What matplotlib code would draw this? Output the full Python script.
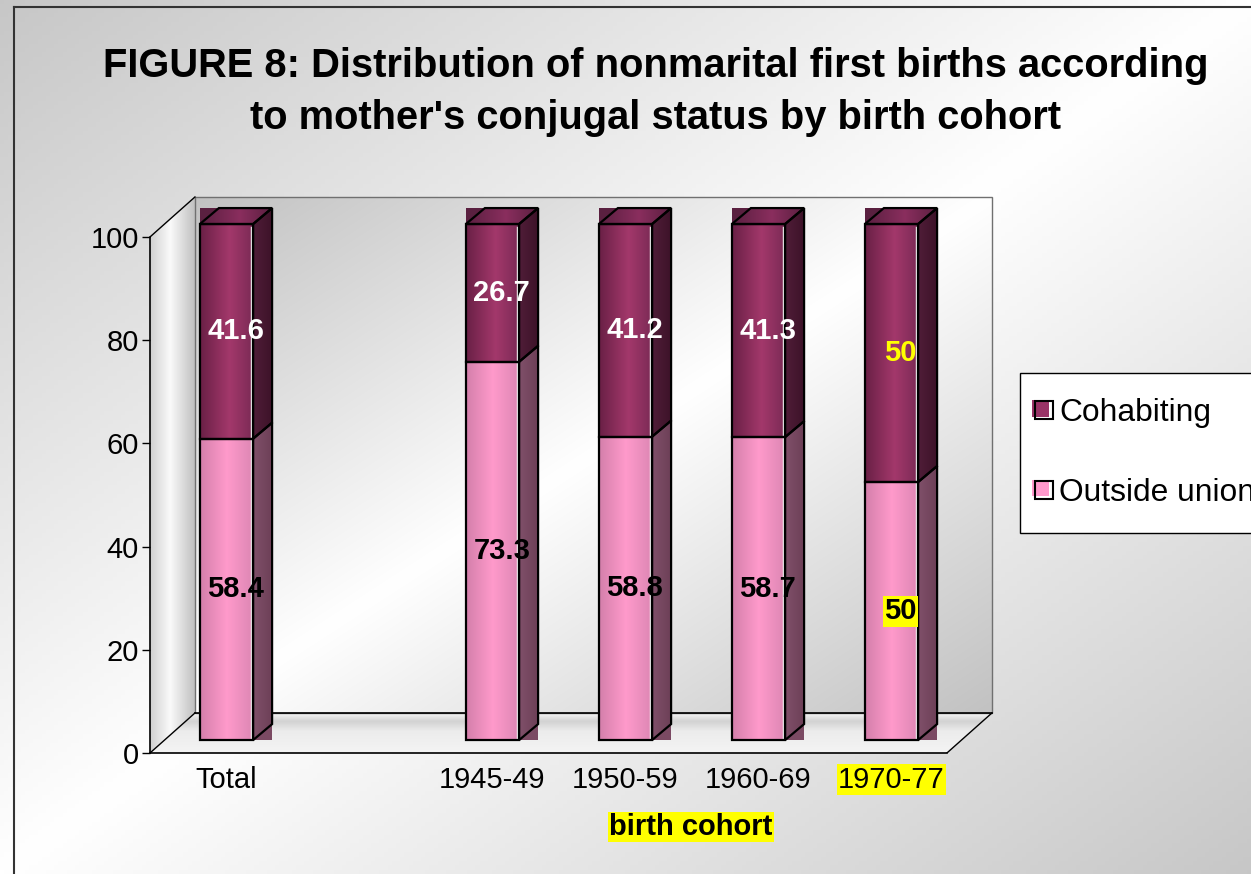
import numpy as np
import matplotlib
matplotlib.use('Agg')
import matplotlib.pyplot as plt
from matplotlib.patches import Polygon, Rectangle
from matplotlib.lines import Line2D
from matplotlib.legend_handler import HandlerBase
from matplotlib.colors import to_rgb

plt.rcParams['font.family'] = ['Liberation Sans', 'DejaVu Sans']

# data (blank slot between Total and the cohorts, as in the original)
cohorts = ['Total', '', '1945-49', '1950-59', '1960-69', '1970-77']
outside_union = np.array([58.4, np.nan, 73.3, 58.8, 58.7, 50])
cohabiting = np.array([41.6, np.nan, 26.7, 41.2, 41.3, 50])
highlight = '1970-77'

# 3d look (data units)
X_LEFT, X_RIGHT = -0.575, 5.417
DEPTH_X, DEPTH_Y = 0.338, 7.75
BAR_BASE, BAR_W = 2.5, 0.4
BAR_DX, BAR_DY = 0.143, 3.1


def ramp(stops, n=64):
    # stops: list of (pos, color) -> (n,3) colours
    t = np.linspace(0, 1, n)
    pos = [p for p, c in stops]
    cols = np.array([to_rgb(c) for p, c in stops])
    return np.stack([np.interp(t, pos, cols[:, k]) for k in range(3)], axis=1)


def fill_img(ax, verts, img, z, clip=None):
    xs = [v[0] for v in verts]
    ys = [v[1] for v in verts]
    if clip is None:
        clip = Polygon(verts, closed=True, facecolor='none', edgecolor='none', zorder=z)
        ax.add_patch(clip)
    im = ax.imshow(img, extent=(min(xs), max(xs), min(ys), max(ys)), origin='lower',
                   aspect='auto', interpolation='bilinear', zorder=z)
    im.set_clip_path(clip)
    return im


def hgrad(stops):
    return ramp(stops)[None, :, :]


def vgrad(stops):
    return ramp(stops)[:, None, :]


fig = plt.figure(figsize=(12.51, 8.74), dpi=100)

# page background, diagonal grey -> white -> grey
bg = fig.add_axes([0, 0, 1, 1], zorder=-1)
u = np.linspace(0, 1, 300)[None, :]
v = np.linspace(0, 1, 200)[:, None]
s = np.abs(u + v - 1)
g = 1 - 0.22 * s
bg.imshow(np.dstack([g, g, g]), extent=(0, 1, 0, 1), origin='upper', aspect='auto')
bg.set_xlim(0, 1)
bg.set_ylim(0, 1)
bg.axis('off')
fig.add_artist(Line2D([14/1251, 1], [1 - 7/874, 1 - 7/874], color='#333333', lw=1.5))
fig.add_artist(Line2D([14/1251, 14/1251], [0, 1 - 7/874], color='#333333', lw=1.5))

ax = fig.add_axes([150/1251, (874-753)/874, 850/1251, (753-190)/874])
ax.patch.set_visible(False)

xb = X_LEFT + DEPTH_X
xr_back = X_RIGHT + DEPTH_X

# back wall
wall = [(xb, DEPTH_Y), (xr_back, DEPTH_Y), (xr_back, 100 + DEPTH_Y), (xb, 100 + DEPTH_Y)]
uu = np.linspace(0, 1, 200)[None, :]
vv = np.linspace(0, 1, 200)[:, None]
gw = 1 - 0.24 * np.abs(uu + (1 - vv) - 1)
fill_img(ax, wall, np.dstack([gw, gw, gw]), 1)
ax.add_patch(Polygon(wall, closed=True, facecolor='none', edgecolor='#707070', lw=1, zorder=1.2))

# left wall
lwall = [(X_LEFT, 0), (xb, DEPTH_Y), (xb, 100 + DEPTH_Y), (X_LEFT, 100)]
fill_img(ax, lwall, hgrad([(0, '#d0d0d0'), (0.45, '#fafafa'), (1, '#c0c0c0')]), 1)
ax.plot([X_LEFT, xb], [100, 100 + DEPTH_Y], color='black', lw=1, zorder=2)
ax.plot([X_LEFT, xb], [0, DEPTH_Y], color='black', lw=1, zorder=2)

# floor
floor = [(X_LEFT, 0), (X_RIGHT, 0), (xr_back, DEPTH_Y), (xb, DEPTH_Y)]
fill_img(ax, floor, vgrad([(0, '#f4f4f4'), (0.55, '#ececec'), (0.8, '#d2d2d2'), (1, '#f6f6f6')]), 1)
ax.plot([xb, xr_back], [DEPTH_Y, DEPTH_Y], color='black', lw=1.2, zorder=2)
ax.plot([X_RIGHT, xr_back], [0, DEPTH_Y], color='black', lw=1, zorder=2)

# bars
x = np.arange(len(cohorts))
m = ~np.isnan(outside_union)
lo = ax.bar(x[m], outside_union[m], bottom=BAR_BASE, width=BAR_W,
            facecolor='none', edgecolor='black', lw=1.6, zorder=5)
hi = ax.bar(x[m], cohabiting[m], bottom=BAR_BASE + outside_union[m], width=BAR_W,
            facecolor='none', edgecolor='black', lw=1.6, zorder=5)

pink_front = hgrad([(0, '#d47fab'), (0.5, '#ff9acb'), (1, '#dc86b3')])
plum_front = hgrad([(0, '#6a2046'), (0.55, '#a3386b'), (1, '#7a2a55')])
pink_side = hgrad([(0, '#80506a'), (1, '#6c3f56')])
plum_side = hgrad([(0, '#501d38'), (1, '#3c1228')])
plum_top = hgrad([(0, '#5a1f40'), (0.55, '#8a2e5e'), (1, '#5a1f40')])

for rl, rh in zip(lo, hi):
    x0 = rl.get_x()
    x1 = x0 + rl.get_width()
    y0 = rl.get_y()
    yb = y0 + rl.get_height()
    yt = yb + rh.get_height()
    # backdrop
    ax.add_patch(Rectangle((x0, y0), x1 + BAR_DX - x0, yb - y0,
                           facecolor='#7b4a63', edgecolor='none', zorder=3))
    ax.add_patch(Rectangle((x0, yb), x1 + BAR_DX - x0, yt + BAR_DY - yb,
                           facecolor='#5a2040', edgecolor='none', zorder=3))
    # front faces
    fill_img(ax, [(x0, y0), (x1, yt)], pink_front, 4, clip=rl)
    fill_img(ax, [(x0, yb), (x1, yt)], plum_front, 4, clip=rh)
    # side and top faces
    side_lo = [(x1, y0), (x1 + BAR_DX, y0 + BAR_DY), (x1 + BAR_DX, yb + BAR_DY), (x1, yb)]
    side_hi = [(x1, yb), (x1 + BAR_DX, yb + BAR_DY), (x1 + BAR_DX, yt + BAR_DY), (x1, yt)]
    top = [(x0, yt), (x1, yt), (x1 + BAR_DX, yt + BAR_DY), (x0 + BAR_DX, yt + BAR_DY)]
    fill_img(ax, side_lo, pink_side, 4)
    fill_img(ax, side_hi, plum_side, 4)
    fill_img(ax, top, plum_top, 4)
    for poly in (side_lo, side_hi, top):
        ax.add_patch(Polygon(poly, closed=True, facecolor='none', edgecolor='black',
                             lw=1.6, zorder=5))
    ax.plot([x1 - 0.012, x1 - 0.012], [y0 + 0.5, yt - 0.5], color='white', lw=1, zorder=4.5)

# value labels
for i in x[m]:
    o, c = outside_union[i], cohabiting[i]
    hl = cohorts[i] == highlight
    t1 = ax.text(i + 0.07, BAR_BASE + o / 2, f'{o:g}', ha='center', va='center',
                 fontsize=21, fontweight='bold', color='black', zorder=6)
    if hl:
        t1.set_bbox(dict(facecolor='yellow', edgecolor='none', pad=1))
    ax.text(i + 0.07, BAR_BASE + o + c / 2, f'{c:g}', ha='center', va='center',
            fontsize=21, fontweight='bold', color='yellow' if hl else 'white', zorder=6)

# axes
ax.set_xlim(X_LEFT, 5.816)
ax.set_ylim(0, 109.1)
ax.set_yticks(np.arange(0, 101, 20))
ax.set_xticks(x, cohorts)
ax.tick_params(axis='y', labelsize=21, length=6, width=1, pad=2)
ax.tick_params(axis='x', labelsize=21, length=0, pad=9)
for lab in ax.get_xticklabels():
    if lab.get_text() == highlight:
        lab.set_bbox(dict(facecolor='yellow', edgecolor='none', pad=1))
ax.spines['top'].set_visible(False)
ax.spines['right'].set_visible(False)
ax.spines['left'].set_bounds(0, 100)
ax.spines['bottom'].set_bounds(X_LEFT, X_RIGHT)
for sp in ('left', 'bottom'):
    ax.spines[sp].set_zorder(2)
    ax.spines[sp].set_linewidth(1.2)

fig.text(691/1251, 1 - 827/874, 'birth cohort', ha='center', va='center', fontsize=21,
         fontweight='bold', bbox=dict(facecolor='yellow', edgecolor='none', pad=1))

fig.text(656/1251, 1 - 92/874,
         "FIGURE 8: Distribution of nonmarital first births according\nto mother's conjugal status by birth cohort",
         ha='center', va='center', fontsize=28.7, fontweight='bold', linespacing=1.45)


# legend with the offset swatch look
class SwatchHandler(HandlerBase):
    def create_artists(self, legend, orig_handle, xdescent, ydescent, width, height, fontsize, trans):
        s = min(width, height)
        x0 = -xdescent + (width - s) / 2 - 7
        y0 = -ydescent + (height - s) / 2
        back = Rectangle((x0 - 0.18 * s, y0 + 0.12 * s), s * 0.95, s * 0.95,
                         facecolor=orig_handle.get_facecolor(), edgecolor='none', transform=trans)
        front = Rectangle((x0, y0), s, s, facecolor='none', edgecolor='black', lw=1.5,
                          transform=trans)
        return [back, front]


handles = [Rectangle((0, 0), 1, 1, facecolor='#993366'), Rectangle((0, 0), 1, 1, facecolor='#ff99cc')]
leg = fig.legend(handles, ['Cohabiting', 'Outside union'], loc='upper left',
                 bbox_to_anchor=(1020/1251, 1 - 373/874), fontsize=22.9, frameon=True,
                 fancybox=False, edgecolor='black', framealpha=1, borderpad=0.79,
                 labelspacing=1.57, handlelength=0.55, handleheight=0.55, handletextpad=-0.1,
                 borderaxespad=0, handler_map={Rectangle: SwatchHandler()})
leg.get_frame().set_linewidth(1)

fig.savefig('out.png', dpi=100)
